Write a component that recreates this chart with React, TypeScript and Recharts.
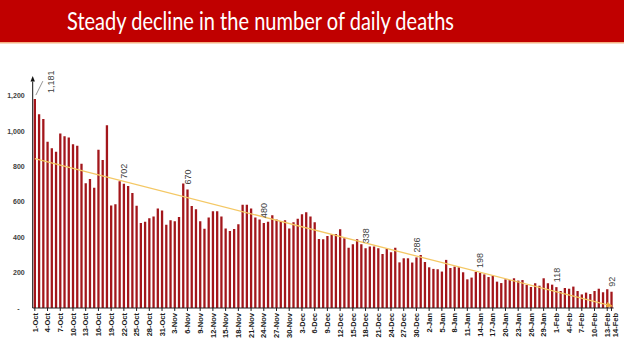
import React from 'react';
import { BarChart, Bar, XAxis, YAxis, ReferenceLine, LabelList } from 'recharts';

// daily deaths, 1-Oct to 14-Feb
const dates = [
  '1-Oct', '2-Oct', '3-Oct', '4-Oct', '5-Oct', '6-Oct', '7-Oct', '8-Oct', '9-Oct', '10-Oct',
  '11-Oct', '12-Oct', '13-Oct', '14-Oct', '15-Oct', '16-Oct', '17-Oct', '18-Oct', '19-Oct', '20-Oct',
  '21-Oct', '22-Oct', '23-Oct', '24-Oct', '25-Oct', '26-Oct', '27-Oct', '28-Oct', '29-Oct', '30-Oct', '31-Oct',
  '1-Nov', '2-Nov', '3-Nov', '4-Nov', '5-Nov', '6-Nov', '7-Nov', '8-Nov', '9-Nov', '10-Nov',
  '11-Nov', '12-Nov', '13-Nov', '14-Nov', '15-Nov', '16-Nov', '17-Nov', '18-Nov', '19-Nov', '20-Nov',
  '21-Nov', '22-Nov', '23-Nov', '24-Nov', '25-Nov', '26-Nov', '27-Nov', '28-Nov', '29-Nov', '30-Nov',
  '1-Dec', '2-Dec', '3-Dec', '4-Dec', '5-Dec', '6-Dec', '7-Dec', '8-Dec', '9-Dec', '10-Dec',
  '11-Dec', '12-Dec', '13-Dec', '14-Dec', '15-Dec', '16-Dec', '17-Dec', '18-Dec', '19-Dec', '20-Dec',
  '21-Dec', '22-Dec', '23-Dec', '24-Dec', '25-Dec', '26-Dec', '27-Dec', '28-Dec', '29-Dec', '30-Dec', '31-Dec',
  '1-Jan', '2-Jan', '3-Jan', '4-Jan', '5-Jan', '6-Jan', '7-Jan', '8-Jan', '9-Jan', '10-Jan',
  '11-Jan', '12-Jan', '13-Jan', '14-Jan', '15-Jan', '16-Jan', '17-Jan', '18-Jan', '19-Jan', '20-Jan',
  '21-Jan', '22-Jan', '23-Jan', '24-Jan', '25-Jan', '26-Jan', '27-Jan', '28-Jan', '29-Jan', '30-Jan', '31-Jan',
  '1-Feb', '2-Feb', '3-Feb', '4-Feb', '5-Feb', '6-Feb', '7-Feb', '8-Feb', '9-Feb', '10-Feb',
  '11-Feb', '12-Feb', '13-Feb', '14-Feb',
];

const deaths = [
  // Oct
  1181, 1095, 1069, 940, 903, 884, 986, 971, 964, 926,
  918, 816, 706, 730, 680, 895, 837, 1033, 579, 587,
  717, 702, 690, 650, 578, 480, 488, 508, 517, 563, 551,
  // Nov
  470, 496, 490, 514, 704, 670, 577, 559, 490, 448,
  512, 547, 547, 518, 449, 435, 447, 474, 584, 584,
  562, 511, 501, 480, 488, 524, 500, 492, 496, 450,
  // Dec
  485, 504, 530, 541, 517, 485, 390, 389, 407, 417,
  419, 445, 394, 341, 360, 389, 360, 338, 347, 347,
  338, 306, 336, 315, 340, 258, 281, 281, 257, 286, 300,
  // Jan
  260, 230, 221, 219, 206, 272, 226, 234, 230, 202,
  162, 172, 204, 198, 190, 175, 183, 149, 141, 162,
  158, 168, 155, 158, 130, 119, 140, 126, 168, 140, 132,
  // Feb
  118, 96, 113, 109, 121, 96, 77, 87, 79, 96,
  109, 89, 106, 92,
];

const labelledDates = ['1-Oct', '22-Oct', '6-Nov', '24-Nov', '18-Dec', '30-Dec', '14-Jan', '1-Feb', '14-Feb'];
const yTicks = [0, 200, 400, 600, 800, 1000, 1200];
const trendStart = 845;
const trendEnd = 12;

const data = dates.map((date, i) => ({
  date,
  deaths: deaths[i],
  label: labelledDates.includes(date) ? deaths[i] : null,
}));

const lastDate = dates[dates.length - 1];
const xTicks = dates.filter((_, i) => i % 3 === 0 || i === dates.length - 1);

const XTick = ({ x, y, payload }: any) => {
  // last label sits a little to the right so it doesn't sit on 13-Feb
  const tx = Number(x) + 2.7 + (payload.value === lastDate ? 4 : 0);
  return (
    <text
      x={tx}
      y={y}
      transform={`rotate(-90, ${tx}, ${y})`}
      textAnchor="end"
      fontSize={7.5}
      fontWeight="bold"
      fontFamily="'Liberation Sans', Arial, sans-serif"
      fill="#1a1a1a"
    >
      {payload.value}
    </text>
  );
};

const YTick = ({ x, y, payload }: any) => {
  const v = payload.value;
  return (
    <text
      x={v === 0 ? Number(x) - 5 : x}
      y={y}
      dy={2.5}
      textAnchor="end"
      fontSize={7}
      fontWeight="bold"
      fontFamily="'Liberation Sans', Arial, sans-serif"
      fill="#404040"
    >
      {v === 0 ? '-' : v.toLocaleString('en-US')}
    </text>
  );
};

const renderLabel = (props: any) => {
  const { x, y, width, value, index } = props;
  if (value == null) return null;
  const cx = Number(x) + Number(width) / 2;
  const top = Number(y);
  const txt = Number(value).toLocaleString('en-US');
  const first = index === 0 || cx < 45;
  const tx = first ? cx + 19 : cx + 3.2;
  const ty = first ? top - 6 : top - 5;
  return (
    <g>
      {first && <line x1={cx + 1} y1={top - 4} x2={cx + 8} y2={top - 18} stroke="#666" strokeWidth={0.7} />}
      <text
        x={tx}
        y={ty}
        transform={`rotate(-90, ${tx}, ${ty})`}
        textAnchor="start"
        fontSize={9}
        fontFamily="'Liberation Sans', Arial, sans-serif"
        fill="#404040"
      >
        {txt}
      </text>
    </g>
  );
};

export default function App() {
  return (
    <div
      style={{
        position: 'fixed',
        left: 0,
        top: 0,
        width: 624,
        height: 351,
        background: '#fff',
        fontFamily: "'Liberation Sans', Arial, sans-serif",
      }}
    >
      <svg width={0} height={0} style={{ position: 'absolute' }}>
        <defs>
          <marker id="axisArrow" markerWidth={6} markerHeight={6} refX={0} refY={3} orient="auto-start-reverse" markerUnits="userSpaceOnUse">
            <path d="M0,0.8 L5.5,3 L0,5.2 z" fill="#111" />
          </marker>
          <marker id="trendArrow" markerWidth={8} markerHeight={8} refX={5} refY={4} orient="auto" markerUnits="userSpaceOnUse">
            <path d="M0,1.2 L6.5,4 L0,6.8 z" fill="#eaa83a" />
          </marker>
        </defs>
      </svg>

      <svg width={624} height={44} style={{ display: 'block' }}>
        <rect x={0} y={0} width={624} height={42} fill="#C00000" />
        <rect x={0} y={42} width={624} height={1.5} fill="#f4b183" />
        <text
          x={67}
          y={29.5}
          fontSize={25}
          fontFamily="Lato, 'Open Sans', sans-serif"
          fill="#ffffff"
          textLength={387}
          lengthAdjust="spacingAndGlyphs"
        >
          Steady decline in the number of daily deaths
        </text>
      </svg>

      <div style={{ position: 'absolute', left: 0, top: 43 }}>
        <BarChart
          width={624}
          height={308}
          data={data}
          margin={{ top: 38.6, right: 10.4, bottom: 0, left: 0 }}
        >
          <XAxis
            dataKey="date"
            ticks={xTicks}
            interval={0}
            height={43}
            tick={<XTick />}
            tickSize={3}
            tickMargin={2}
            axisLine={{ stroke: '#222' }}
            tickLine={{ stroke: '#222' }}
          />
          <YAxis
            domain={[0, 1280]}
            ticks={yTicks}
            width={32.7}
            tickSize={0}
            tickMargin={8}
            tick={<YTick />}
            tickLine={false}
            axisLine={{ stroke: '#111', markerStart: 'url(#axisArrow)' }}
            allowDataOverflow
          />
          <Bar dataKey="deaths" fill="#a3161b" barSize={2.3} isAnimationActive={false}>
            <LabelList dataKey="label" content={renderLabel} />
          </Bar>
          <ReferenceLine
            segment={[
              { x: dates[0], y: trendStart },
              { x: dates[dates.length - 1], y: trendEnd },
            ]}
            stroke="#f4c865"
            strokeWidth={1.3}
            markerEnd="url(#trendArrow)"
          />
        </BarChart>
      </div>
    </div>
  );
}
